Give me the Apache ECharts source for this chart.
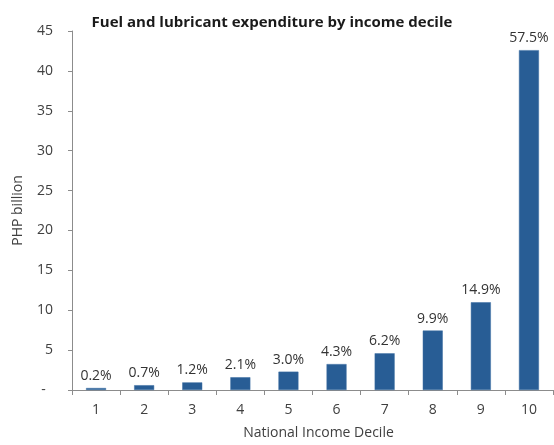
<!DOCTYPE html>
<html><head><meta charset="utf-8">
<script src="https://cdn.jsdelivr.net/npm/echarts@6/dist/echarts.min.js"></script>
<style>html,body{margin:0;padding:0;background:#fff}#c{width:554px;height:445px}</style>
</head><body><div id="c"></div>
<script>
const categories = ['1','2','3','4','5','6','7','8','9','10'];
const values = [0.25, 0.6, 0.95, 1.6, 2.3, 3.25, 4.6, 7.45, 11.0, 42.6];
const shareLabels = ['0.2%','0.7%','1.2%','2.1%','3.0%','4.3%','6.2%','9.9%','14.9%','57.5%'];
const yTicks = [0,5,10,15,20,25,30,35,40,45];

const font = '"Open Sans", "Noto Sans", sans-serif';
const chart = echarts.init(document.getElementById('c'), null, {renderer:'canvas'});
chart.setOption({
  animation:false,
  title:{text:'Fuel and lubricant expenditure by income decile', left:267, top:10, textAlign:'center',
    textStyle:{fontFamily:font, fontSize:15, fontWeight:'bold', color:'#1a1a1a'}},
  grid:{left:72, right:1, top:31, bottom:53},
  xAxis:{type:'category', data:categories,
    name:'National Income Decile', nameLocation:'middle', nameGap:36,
    nameTextStyle:{fontFamily:font, fontSize:14, color:'#404040', padding:[0,0,0,12]},
    axisLine:{lineStyle:{color:'#8c8c8c'}},
    axisTick:{show:true, alignWithLabel:false, length:5, lineStyle:{color:'#8c8c8c'}},
    axisLabel:{fontFamily:font, fontSize:14, color:'#404040', margin:13}},
  yAxis:{type:'value', min:yTicks[0], max:yTicks[yTicks.length-1], interval:5,
    name:'PHP billion', nameLocation:'middle', nameGap:47,
    nameTextStyle:{fontFamily:font, fontSize:14, color:'#404040'},
    axisLine:{show:true, lineStyle:{color:'#8c8c8c'}},
    axisTick:{show:true, length:4, lineStyle:{color:'#8c8c8c'}},
    splitLine:{show:false},
    axisLabel:{fontFamily:font, fontSize:14, color:'#404040', margin:19,
      formatter:function(v){return v===0?'-  ':String(v);}}},
  series:[{type:'bar', data:values, barWidth:20,
    itemStyle:{color:'#285d95', borderColor:'#3d6ea3', borderWidth:0.5},
    label:{show:true, position:'top', distance:5, fontFamily:font, fontSize:14, color:'#333',
      formatter:function(p){return shareLabels[p.dataIndex];}}}]
});
</script></body></html>
